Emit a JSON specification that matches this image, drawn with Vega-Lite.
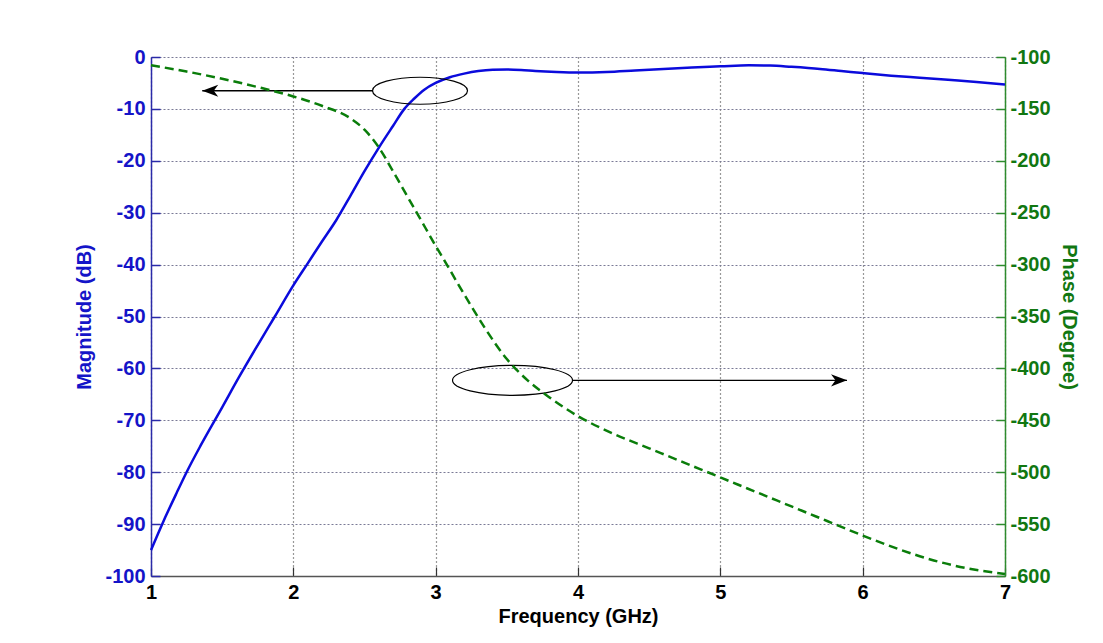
{
  "$schema": "https://vega.github.io/schema/vega-lite/v6.json",
  "width": 854,
  "height": 519,
  "autosize": {"type": "none"},
  "padding": {"left": 151, "top": 57, "right": 98, "bottom": 67},
  "background": "white",
  "config": {
    "view": {"stroke": null},
    "font": "Liberation Sans",
    "axis": {
      "labelFont": "Liberation Sans",
      "titleFont": "Liberation Sans",
      "labelFontWeight": "bold",
      "titleFontWeight": "bold",
      "labelFontSize": 20,
      "titleFontSize": 20,
      "labelFlush": false,
      "labelOverlap": false
    }
  },
  "datasets": {
    "mag": [
      {"f": 1.0, "m": -95}, {"f": 1.05, "m": -91.8}, {"f": 1.1, "m": -88.7}, {"f": 1.18, "m": -84}, {"f": 1.25, "m": -80},
      {"f": 1.35, "m": -74.8}, {"f": 1.5, "m": -67.5}, {"f": 1.62, "m": -61.6}, {"f": 1.75, "m": -55.5}, {"f": 1.87, "m": -50},
      {"f": 2.0, "m": -44}, {"f": 2.1, "m": -39.8}, {"f": 2.2, "m": -35.6}, {"f": 2.3, "m": -31.5}, {"f": 2.4, "m": -26.8},
      {"f": 2.5, "m": -22}, {"f": 2.6, "m": -17.5}, {"f": 2.7, "m": -13.3}, {"f": 2.78, "m": -10}, {"f": 2.85, "m": -8},
      {"f": 2.92, "m": -6.3}, {"f": 3.0, "m": -5}, {"f": 3.1, "m": -3.9}, {"f": 3.2, "m": -3.2}, {"f": 3.3, "m": -2.7},
      {"f": 3.4, "m": -2.45}, {"f": 3.5, "m": -2.4}, {"f": 3.6, "m": -2.5}, {"f": 3.7, "m": -2.7}, {"f": 3.85, "m": -2.9},
      {"f": 4.0, "m": -3.0}, {"f": 4.2, "m": -2.9}, {"f": 4.4, "m": -2.6}, {"f": 4.6, "m": -2.3}, {"f": 4.8, "m": -2.0},
      {"f": 5.0, "m": -1.8}, {"f": 5.2, "m": -1.6}, {"f": 5.35, "m": -1.65}, {"f": 5.5, "m": -1.9}, {"f": 5.7, "m": -2.3},
      {"f": 5.85, "m": -2.7}, {"f": 6.0, "m": -3.1}, {"f": 6.2, "m": -3.6}, {"f": 6.4, "m": -4.0}, {"f": 6.6, "m": -4.4},
      {"f": 6.8, "m": -4.8}, {"f": 7.0, "m": -5.3}
    ],
    "phase": [
      {"f": 1.0, "p": -108}, {"f": 1.25, "p": -114}, {"f": 1.5, "p": -121}, {"f": 1.75, "p": -129}, {"f": 2.0, "p": -138},
      {"f": 2.2, "p": -147}, {"f": 2.4, "p": -159}, {"f": 2.5, "p": -170}, {"f": 2.6, "p": -187}, {"f": 2.7, "p": -210},
      {"f": 2.8, "p": -234}, {"f": 2.88, "p": -253}, {"f": 3.0, "p": -282}, {"f": 3.07, "p": -298}, {"f": 3.15, "p": -317},
      {"f": 3.25, "p": -340}, {"f": 3.35, "p": -362}, {"f": 3.5, "p": -391}, {"f": 3.65, "p": -412}, {"f": 3.8, "p": -428},
      {"f": 4.0, "p": -446}, {"f": 4.25, "p": -463}, {"f": 4.5, "p": -477}, {"f": 4.75, "p": -491}, {"f": 5.0, "p": -505},
      {"f": 5.25, "p": -519}, {"f": 5.5, "p": -533}, {"f": 5.75, "p": -547}, {"f": 6.0, "p": -561}, {"f": 6.25, "p": -574},
      {"f": 6.5, "p": -585}, {"f": 6.75, "p": -593}, {"f": 7.0, "p": -598}
    ],
    "arrows": [
      {"f": 1.36, "f2": 2.56, "m": -6.5},
      {"f": 3.96, "f2": 5.89, "m": -62.3}
    ]
  },
  "encoding": {
    "x": {
      "field": "f", "type": "quantitative", "title": "Frequency (GHz)",
      "scale": {"domain": [1, 7], "nice": false},
      "axis": {
        "values": [1, 2, 3, 4, 5, 6, 7], "labelExpr": "toString(datum.value)",
        "tickSize": -9, "labelPadding": 15, "titlePadding": 4,
        "grid": true, "gridDash": [1, 3], "gridColor": "#333", "gridWidth": 1.2,
        "domainColor": "#555", "domainWidth": 1.5, "tickColor": "#333", "tickWidth": 1.2,
        "labelColor": "black", "titleColor": "black"
      }
    }
  },
  "layer": [
    {
      "encoding": {
        "y": {
          "field": "m", "type": "quantitative", "title": "Magnitude (dB)",
          "scale": {"domain": [-100, 0], "nice": false},
          "axis": {
            "orient": "left",
            "values": [-100, -90, -80, -70, -60, -50, -40, -30, -20, -10, 0],
            "labelExpr": "toString(datum.value)",
            "tickSize": -9, "labelPadding": 15, "titlePadding": 10,
            "grid": true, "gridDash": [2, 2], "gridColor": "#7a7a96", "gridWidth": 1,
            "domainColor": "#2a2aa8", "domainWidth": 1.5, "tickColor": "#2a2aa8", "tickWidth": 1.5,
            "labelColor": "#1414c8", "titleColor": "#1414c8"
          }
        }
      },
      "layer": [
        {
          "data": {"name": "mag"},
          "mark": {"type": "line", "color": "#0b0bdc", "strokeWidth": 2.5, "interpolate": "monotone"}
        },
        {
          "data": {"values": [{"f": 2.89, "m": -6.5}]},
          "mark": {
            "type": "point",
            "shape": "M-1,0C-1,-0.157,-0.552,-0.284,0,-0.284C0.552,-0.284,1,-0.157,1,0C1,0.157,0.552,0.284,0,0.284C-0.552,0.284,-1,0.157,-1,0Z",
            "size": 9025, "filled": false, "stroke": "black", "strokeWidth": 1.2, "opacity": 1
          }
        },
        {
          "data": {"values": [{"f": 3.54, "m": -62.3}]},
          "mark": {
            "type": "point",
            "shape": "M-1,0C-1,-0.138,-0.552,-0.25,0,-0.25C0.552,-0.25,1,-0.138,1,0C1,0.138,0.552,0.25,0,0.25C-0.552,0.25,-1,0.138,-1,0Z",
            "size": 14400, "filled": false, "stroke": "black", "strokeWidth": 1.2, "opacity": 1
          }
        },
        {
          "data": {"name": "arrows"},
          "mark": {"type": "rule", "color": "black", "strokeWidth": 1.3},
          "encoding": {"x2": {"field": "f2"}}
        },
        {
          "data": {"values": [{"f": 1.36, "m": -6.5}]},
          "mark": {"type": "point", "shape": "M0,0L1,-0.38L0.72,0L1,0.38Z", "size": 1024, "filled": true, "color": "black", "opacity": 1}
        },
        {
          "data": {"values": [{"f": 5.89, "m": -62.3}]},
          "mark": {"type": "point", "shape": "M0,0L-1,-0.38L-0.72,0L-1,0.38Z", "size": 1024, "filled": true, "color": "black", "opacity": 1}
        }
      ]
    },
    {
      "data": {"name": "phase"},
      "mark": {"type": "line", "color": "#0a7d0a", "strokeWidth": 2.5, "strokeDash": [9, 5], "interpolate": "monotone"},
      "encoding": {
        "y": {
          "field": "p", "type": "quantitative", "title": "Phase (Degree)",
          "scale": {"domain": [-600, -100], "nice": false},
          "axis": {
            "orient": "right",
            "values": [-600, -550, -500, -450, -400, -350, -300, -250, -200, -150, -100],
            "labelExpr": "toString(datum.value)",
            "tickSize": -9, "labelPadding": 14, "titlePadding": 8, "grid": false,
            "domainColor": "#2e8b2e", "domainWidth": 1.5, "tickColor": "#2e8b2e", "tickWidth": 1.5,
            "labelColor": "#117711", "titleColor": "#117711"
          }
        }
      }
    }
  ],
  "resolve": {"scale": {"y": "independent"}}
}
